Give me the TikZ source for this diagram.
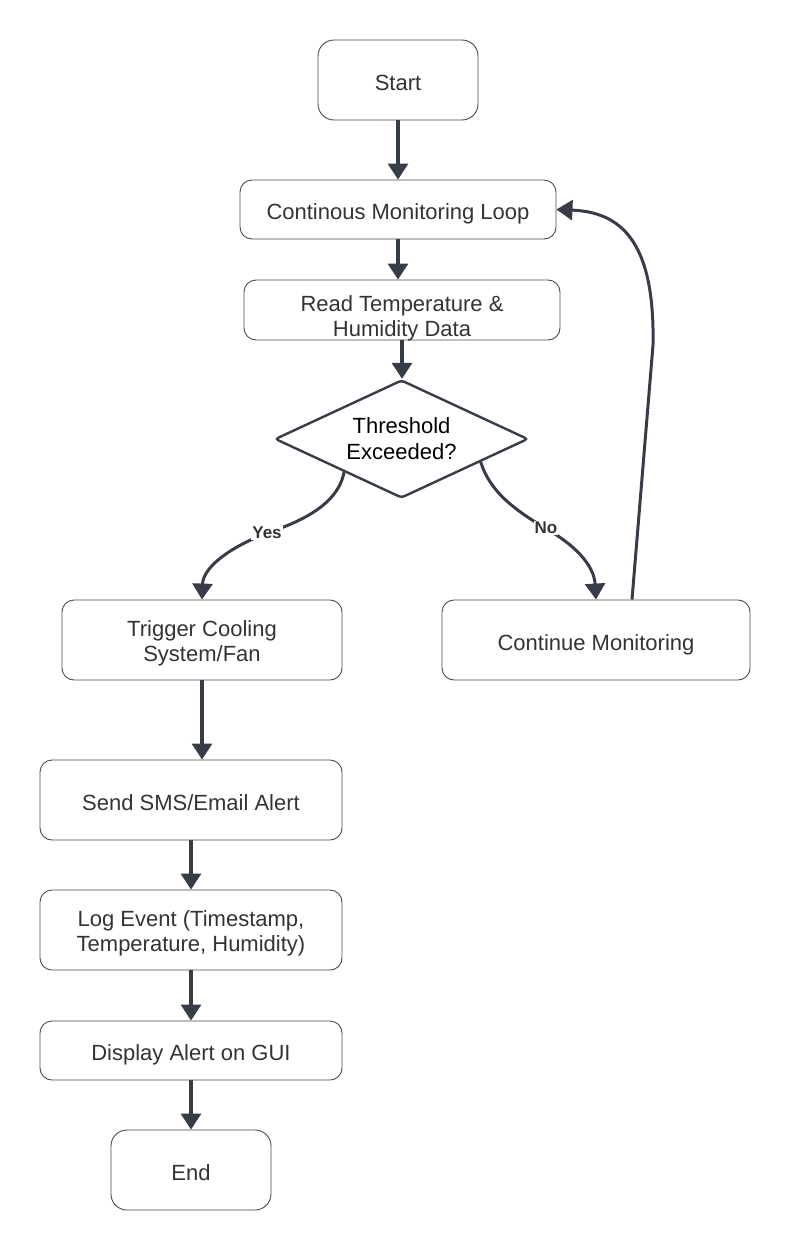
\documentclass[tikz,border=0pt]{standalone}
\usepackage{fontspec}
\setmainfont{Liberation Sans}
\usetikzlibrary{arrows.meta,shapes.geometric,calc}
\definecolor{arr}{HTML}{373D48}
\definecolor{boxc}{HTML}{4A4A4A}
\definecolor{txt}{HTML}{333333}
\tikzset{
  box/.style={draw=boxc, line width=0.9pt, rounded corners=12pt, align=center, text=txt,
    font=\fontsize{22}{25}\selectfont, inner sep=0pt, text height=20pt, text depth=0pt},
  twoline/.style={text height=43.4pt, text depth=0pt},
  term/.style={box, rounded corners=16pt, minimum width=160pt, minimum height=80pt},
  dec/.style={diamond, draw=arr, line width=2.4pt, rounded corners=3pt, align=center, text=black,
    font=\fontsize{22}{26}\selectfont, inner sep=0pt, aspect=2.1,
    minimum width=253pt, minimum height=118pt, text height=40pt, text depth=0pt},
  flow/.style={draw=arr, line width=3.3pt, -{Triangle[width=20pt,length=16pt]}},
  curvearrow/.style={draw=arr, line width=3pt, -{Triangle[width=20pt,length=16pt]}},
  lbl/.style={font=\bfseries\fontsize{17}{19}\selectfont, fill=white, inner sep=1pt, text=txt}
}
\begin{document}
\begin{tikzpicture}[x=1pt,y=-1pt]
\useasboundingbox (0,0) rectangle (791,1250);
\node[term] (start) at (398,80) {Start};
\node[box, minimum width=316pt, minimum height=59pt] (cml) at (398,209.5) {Continous Monitoring Loop};
\node[box, twoline, text height=52pt, minimum width=316pt, minimum height=60pt] (read) at (402,310) {Read Temperature \&\\Humidity Data};
\node[dec] (d) at (401.5,439) {Threshold\\Exceeded?};
\node[box, twoline, minimum width=280pt, minimum height=80pt] (trig) at (202,640) {Trigger Cooling\\System/Fan};
\node[box, minimum width=308pt, minimum height=80pt] (cm) at (596,640) {Continue Monitoring};
\node[box, minimum width=302pt, minimum height=80pt] (sms) at (191,800) {Send SMS/Email Alert};
\node[box, twoline, minimum width=302pt, minimum height=80pt] (log) at (191,930) {Log Event (Timestamp,\\Temperature, Humidity)};
\node[box, minimum width=302pt, minimum height=59pt] (disp) at (191,1050.5) {Display Alert on GUI};
\node[term] (end) at (191,1170) {End};

\draw[flow] (start.south) -- (cml.north);
\draw[flow] (cml.south) -- (cml.south |- read.north);
\draw[flow] (read.south) -- (read.south |- d.north);
\draw[flow] (trig.south) -- (trig.south |- sms.north);
\draw[flow] (sms.south) -- (log.north);
\draw[flow] (log.south) -- (disp.north);
\draw[flow] (disp.south) -- (end.north);

\coordinate (ys) at ($(d.west)!0.55!(d.south)$);
\coordinate (ns) at ($(d.east)!0.38!(d.south)$);
\coordinate (ls) at ($(cm.north)+(36,0)$);

\draw[curvearrow] (ys) .. controls (338,505) and (300,522) .. (267,533)
  .. controls (228,548) and (203,568) .. (trig.north);
\node[lbl] (yes) at (267,533) {Yes};

\draw[curvearrow] (ns) .. controls (490,492) and (515,510) .. (545,528)
  .. controls (575,545) and (594,565) .. (cm.north);
\node[lbl] (no) at (546,528) {No};

\draw[curvearrow] (ls) -- (653,345) .. controls (655,240) and (620,212) .. (cml.east);
\end{tikzpicture}
\end{document}
